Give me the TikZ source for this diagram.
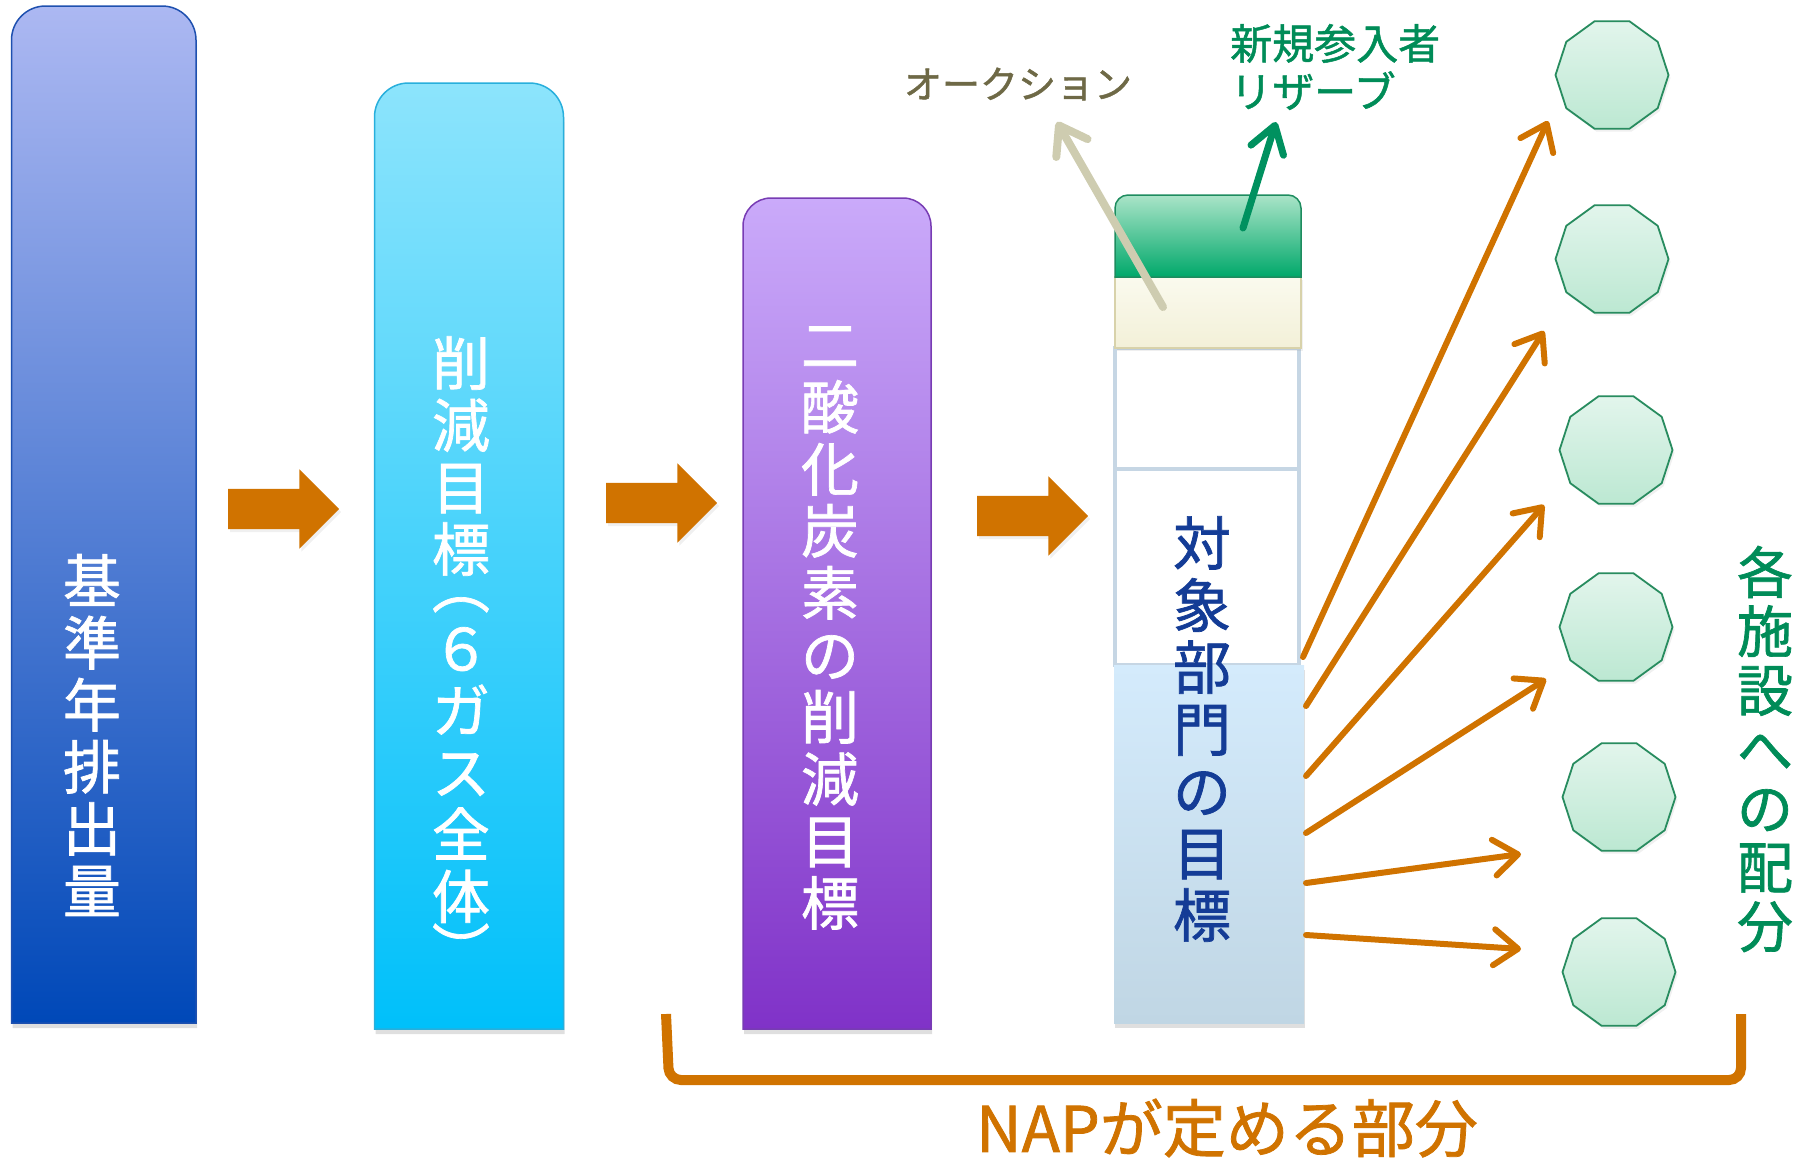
\documentclass[tikz,border=0pt]{standalone}
\usepackage{fontspec}
\setmainfont{Noto Sans CJK JP}[FakeBold=1.2]
\usetikzlibrary{shapes.geometric,shapes.arrows,arrows.meta,backgrounds,shadows}
\definecolor{orng}{RGB}{208,115,0}
\definecolor{c1top}{RGB}{172,184,242}
\definecolor{c1bot}{RGB}{0,72,184}
\definecolor{c1line}{RGB}{30,80,175}
\definecolor{c2top}{RGB}{140,228,252}
\definecolor{c2bot}{RGB}{0,192,250}
\definecolor{c2line}{RGB}{40,175,220}
\definecolor{c3top}{RGB}{202,170,250}
\definecolor{c3bot}{RGB}{128,50,200}
\definecolor{c3line}{RGB}{120,60,180}
\definecolor{gtop}{RGB}{170,228,200}
\definecolor{gbot}{RGB}{0,168,106}
\definecolor{gline}{RGB}{30,140,95}
\definecolor{crtop}{RGB}{250,250,238}
\definecolor{crbot}{RGB}{243,240,216}
\definecolor{crline}{RGB}{216,210,170}
\definecolor{wline}{RGB}{198,214,228}
\definecolor{lbtop}{RGB}{212,235,252}
\definecolor{lbbot}{RGB}{192,214,228}
\definecolor{navy}{RGB}{20,60,150}
\definecolor{olive}{RGB}{110,105,70}
\definecolor{beige}{RGB}{206,204,176}
\definecolor{grn}{RGB}{0,140,88}
\definecolor{garrow}{RGB}{0,145,95}
\definecolor{dtop}{RGB}{226,245,236}
\definecolor{dbot}{RGB}{188,232,210}
\definecolor{dline}{RGB}{40,140,95}
\begin{document}
\begin{tikzpicture}[x=1pt,y=-1pt,
  box/.style={rectangle,draw=none,inner sep=0pt,outer sep=0pt},
  vtext/.style={align=center,inner sep=0pt,font=\fontsize{58}{62}\selectfont},
  blockarrow/.style={single arrow,fill=orng,draw=none,minimum height=111pt,single arrow head extend=19.5pt,single arrow tip angle=90,inner sep=0pt},
  deca/.style={regular polygon,regular polygon sides=10,minimum size=113pt,inner sep=0pt,draw=dline,line width=1.8pt,top color=dtop,bottom color=dbot},
  conn/.style={draw=orng,line width=6pt,line cap=round,-{Straight Barb[length=24pt,width=36pt,round]}},
  shad/.style={drop shadow={shadow xshift=1pt,shadow yshift=-5pt,opacity=0.25}},
  lightshad/.style={drop shadow={shadow xshift=2pt,shadow yshift=-3pt,opacity=0.12}},
]
\useasboundingbox (0,0) rectangle (1807,1160);

% column frames (anchors)
\node[box,minimum width=184.5pt,minimum height=1017pt] (c1) at (103.75,514.5) {};
\node[box,minimum width=189pt,minimum height=946pt] (c2) at (469,556) {};
\node[box,minimum width=188pt,minimum height=831pt] (c3) at (837,613.5) {};
\node[box,minimum width=186pt,minimum height=82pt] (g4) at (1208,236) {};
\node[box,minimum width=186pt,minimum height=71pt] (cr) at (1208,312.5) {};
\node[box,minimum width=184pt,minimum height=121pt] (w1) at (1207,408.5) {};
\node[box,minimum width=184pt,minimum height=196pt] (w2) at (1207,567) {};
\node[box,minimum width=190pt,minimum height=358pt] (lb) at (1209,844) {};

\begin{scope}[on background layer]
\path[shad,top color=c1top,bottom color=c1bot,draw=c1line,line width=1.5pt]
  (c1.south west) [rounded corners=34pt] -- (c1.north west) -- (c1.north east) [sharp corners] -- (c1.south east) -- cycle;
\path[shad,top color=c2top,bottom color=c2bot,draw=c2line,line width=1.5pt]
  (c2.south west) [rounded corners=34pt] -- (c2.north west) -- (c2.north east) [sharp corners] -- (c2.south east) -- cycle;
\path[shad,top color=c3top,bottom color=c3bot,draw=c3line,line width=1.5pt]
  (c3.south west) [rounded corners=28pt] -- (c3.north west) -- (c3.north east) [sharp corners] -- (c3.south east) -- cycle;
\path[fill=white,draw=wline,line width=4pt] (w1.north west) rectangle (w1.south east);
\path[fill=white,draw=wline,line width=4pt] (w2.north west) rectangle (w2.south east);
\path[shad,top color=lbtop,bottom color=lbbot] (lb.north west) rectangle (lb.south east);
\path[lightshad,top color=crtop,bottom color=crbot,draw=crline,line width=1.5pt] (cr.north west) rectangle (cr.south east);
\path[top color=gtop,bottom color=gbot,draw=gline,line width=1.5pt]
  (g4.south west) [rounded corners=13pt] -- (g4.north west) -- (g4.north east) [sharp corners] -- (g4.south east) -- cycle;
\end{scope}

% column texts
\node[vtext,text=white] (t1) at (92,735) {基\\準\\年\\排\\出\\量};
\node[vtext,text=white] (t2a) at (461,456) {削\\減\\目\\標};
\node[vtext,text=white,rotate=-90] (p1) at (461,586) {（};
\node[vtext,text=white] (t2b) at (461,775) {６\\ガ\\ス\\全\\体};
\node[vtext,text=white,rotate=-90] (p2) at (461,950) {）};
\node[vtext,text=white] (t3) at (830,628) {二\\酸\\化\\炭\\素\\の\\削\\減\\目\\標};
\node[vtext,text=navy] (t4) at (1202,729) {対\\象\\部\\門\\の\\目\\標};

% block arrows
\node[blockarrow,lightshad] (a1) at (273.5,509) {\rule{0pt}{40pt}};
\node[blockarrow,lightshad] (a2) at (651.5,503) {\rule{0pt}{40pt}};
\node[blockarrow,lightshad] (a3) at (1022.5,516) {\rule{0pt}{40pt}};

% labels top
\node[text=olive,font=\fontsize{38}{44}\selectfont,inner sep=0pt] (auc) at (1018,84) {オークション};
\node[text=grn,font=\fontsize{42}{48}\selectfont,align=left,anchor=west,inner sep=0pt] (res) at (1230,67) {新規参入者\\リザーブ};

% auction / reserve arrows
\coordinate (ba) at (1163,307);
\coordinate (bb) at (1057,122);
\draw[beige,line width=8pt,line cap=round,-{Straight Barb[length=26pt,width=36pt,round]}] (ba) -- (bb);
\coordinate (ga) at (1243,228);
\coordinate (gb) at (1276,122);
\draw[garrow,line width=7pt,line cap=round,-{Straight Barb[length=26pt,width=34pt,round]}] (ga) -- (gb);

% decagons
\node[deca,lightshad] (d1) at (1612,75) {};
\node[deca,lightshad] (d2) at (1612,259) {};
\node[deca,lightshad] (d3) at (1616,450) {};
\node[deca,lightshad] (d4) at (1616,627) {};
\node[deca,lightshad] (d5) at (1619,797) {};
\node[deca,lightshad] (d6) at (1619,972) {};

% distribution arrows
\coordinate (s1) at (1303,657); \coordinate (e1) at (1548,121);
\coordinate (s2) at (1306,706); \coordinate (e2) at (1544,331);
\coordinate (s3) at (1306,776); \coordinate (e3) at (1544,505);
\coordinate (s4) at (1306,833); \coordinate (e4) at (1546,679);
\coordinate (s5) at (1306,883); \coordinate (e5) at (1521,854);
\coordinate (s6) at (1306,935); \coordinate (e6) at (1521,949);
\draw[conn] (s1) -- (e1);
\draw[conn] (s2) -- (e2);
\draw[conn] (s3) -- (e3);
\draw[conn] (s4) -- (e4);
\draw[conn] (s5) -- (e5);
\draw[conn] (s6) -- (e6);

\node[vtext,text=grn,font=\fontsize{56}{59}\selectfont] (alloc) at (1765,749) {各\\施\\設\\へ\\の\\配\\分};

% bracket
\coordinate (bl1) at (666,1014);
\coordinate (bl2) at (669,1080);
\coordinate (br2) at (1741,1080);
\coordinate (br1) at (1741,1014);
\draw[orng,line width=10pt,rounded corners=12pt] (bl1) -- (bl2) -- (br2) -- (br1);
\node[text=orng,font=\fontsize{63}{63}\selectfont,inner sep=0pt] (nap) at (1227,1128) {NAPが定める部分};
\end{tikzpicture}
\end{document}
